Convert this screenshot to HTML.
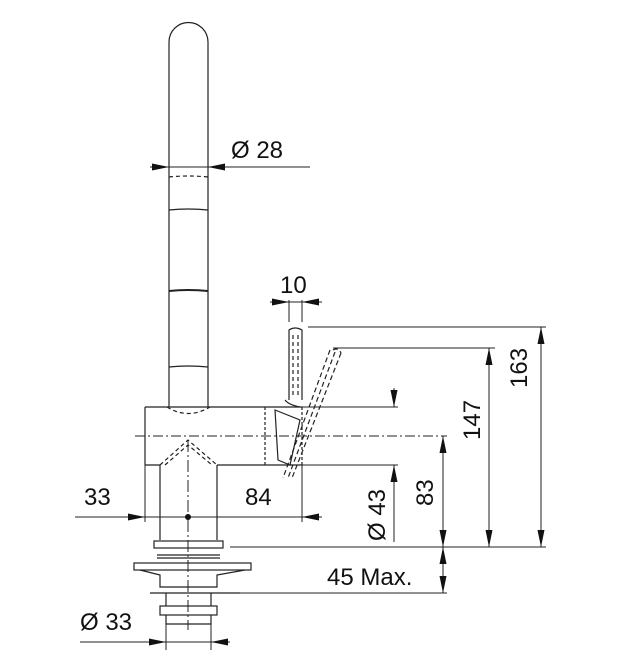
<!DOCTYPE html>
<html><head><meta charset="utf-8"><style>
html,body{margin:0;padding:0;background:#fff}
svg{display:block}
text{font-family:"Liberation Sans",Arial,sans-serif;fill:#111}
</style></head><body>
<svg width="625" height="670" viewBox="0 0 625 670" xmlns="http://www.w3.org/2000/svg" xmlns:xlink="http://www.w3.org/1999/xlink">
<defs>
<path id="ar" d="M0,0 L-17,-3.5 L-17,3.5z" fill="#111"/>
</defs>
<g stroke="#222" stroke-width="1.2" fill="none">
<path d="M169,407 L169,42 A19.5,19.5 0 0 1 208,42 L208,407"/>
<path d="M169,177 Q188,175 208,177" stroke-dasharray="4,3"/>
<path d="M169,210 Q188,208 208,210"/>
<path d="M169,291 Q188,289 208,291" stroke-width="2"/>
<path d="M169,367 Q188,365 208,367"/>
<path d="M145,407 L265,407 M145,465 L160,465 M217,465 L265,465 M145,407 L145,465"/>
<path d="M265,407 L265,465 M302,407 L302,465" stroke-dasharray="3,2"/>
<path d="M265,407 L302,407 M265,465 L302,465"/>
<path d="M135,436 L447,436" stroke-dasharray="10,3,2,3" stroke-width="1"/>
<path d="M167,407 Q188,420 210,407" stroke-dasharray="4,3"/>
<path d="M160,465 L188,440 L217,465" stroke-dasharray="4,3"/>
<path d="M165,465 L188,445 L212,465" stroke-dasharray="4,3"/>
<path d="M289,400 L289,330 Q295,326 302,330 L302,400"/>
<path d="M293,335 L293,398 M298,335 L298,398" stroke-dasharray="4,3"/>
<path d="M285,400 Q289,405 300,407"/>
<path d="M330,350 L283,478 M341,353 L292,478 M333,350 Q338,347 341,353" stroke-dasharray="5,3"/>
<path d="M335,352 L288,478" stroke-dasharray="5,3"/>
<path d="M275,410 L300,420 L290,465 L278,460 Z"/>
<path d="M160,465 L160,540 M217,465 L217,540"/>
<path d="M188,440 L188,630" stroke-dasharray="12,3,2,3" stroke-width="1"/>
<rect x="154" y="541" width="69" height="7"/>
<path d="M157,555 L220,555 M157,558 L220,558"/>
<rect x="134" y="563" width="117" height="7"/>
<path d="M140,570 L160,575 L160,587 L217,587 L217,575 L245,570"/>
<path d="M150,593 L240,593"/>
<path d="M166,593 L166,606 M211,593 L211,606"/>
<rect x="160" y="606" width="57" height="9"/>
<path d="M166,615 L166,624 L211,624 L211,615"/>
</g>
<g stroke="#222" stroke-width="1" fill="none">
<path d="M150,167 L310,167"/>
<path d="M289,300 L289,322 M302,300 L302,322"/>
<path d="M270,302 L322,302"/>
<path d="M308,327 L546,327 M333,348 L495,348 M302,407 L398,407 M302,465 L398,465"/>
<path d="M230,547 L546,547 M230,593 L447,593"/>
<path d="M541,327 L541,547 M489,348 L489,547 M443,436 L443,593"/>
<path d="M394,388 L394,407 M394,465 L394,542"/>
<path d="M145,465 L145,522 M302,465 L302,522"/>
<path d="M75,517 L322,517"/>
<path d="M166,624 L166,650 M211,624 L211,650"/>
<path d="M80,642 L230,642"/>
</g>
<use xlink:href="#ar" transform="translate(169,167)"/>
<use xlink:href="#ar" transform="translate(208,167) rotate(180)"/>
<use xlink:href="#ar" transform="translate(289,302)"/>
<use xlink:href="#ar" transform="translate(302,302) rotate(180)"/>
<use xlink:href="#ar" transform="translate(541,327) rotate(-90)"/>
<use xlink:href="#ar" transform="translate(541,547) rotate(90)"/>
<use xlink:href="#ar" transform="translate(489,348) rotate(-90)"/>
<use xlink:href="#ar" transform="translate(489,547) rotate(90)"/>
<use xlink:href="#ar" transform="translate(443,436) rotate(-90)"/>
<use xlink:href="#ar" transform="translate(443,547) rotate(90)"/>
<use xlink:href="#ar" transform="translate(443,547) rotate(-90)"/>
<use xlink:href="#ar" transform="translate(443,593) rotate(90)"/>
<use xlink:href="#ar" transform="translate(394,407) rotate(90)"/>
<use xlink:href="#ar" transform="translate(394,465) rotate(-90)"/>
<use xlink:href="#ar" transform="translate(145,517)"/>
<use xlink:href="#ar" transform="translate(302,517) rotate(180)"/>
<use xlink:href="#ar" transform="translate(166,642)"/>
<use xlink:href="#ar" transform="translate(211,642) rotate(180)"/>
<circle cx="188" cy="517" r="3" fill="#111"/>
<g font-size="24">
<text x="231" y="158">Ø 28</text>
<text x="280" y="293">10</text>
<text x="84" y="505">33</text>
<text x="245" y="505">84</text>
<text x="327" y="585">45 Max.</text>
<text x="80" y="630">Ø 33</text>
<text transform="translate(527,388) rotate(-90)">163</text>
<text transform="translate(480,440) rotate(-90)">147</text>
<text transform="translate(433,506) rotate(-90)">83</text>
<text transform="translate(385,541) rotate(-90)">Ø 43</text>
</g>
</svg>
</body></html>
